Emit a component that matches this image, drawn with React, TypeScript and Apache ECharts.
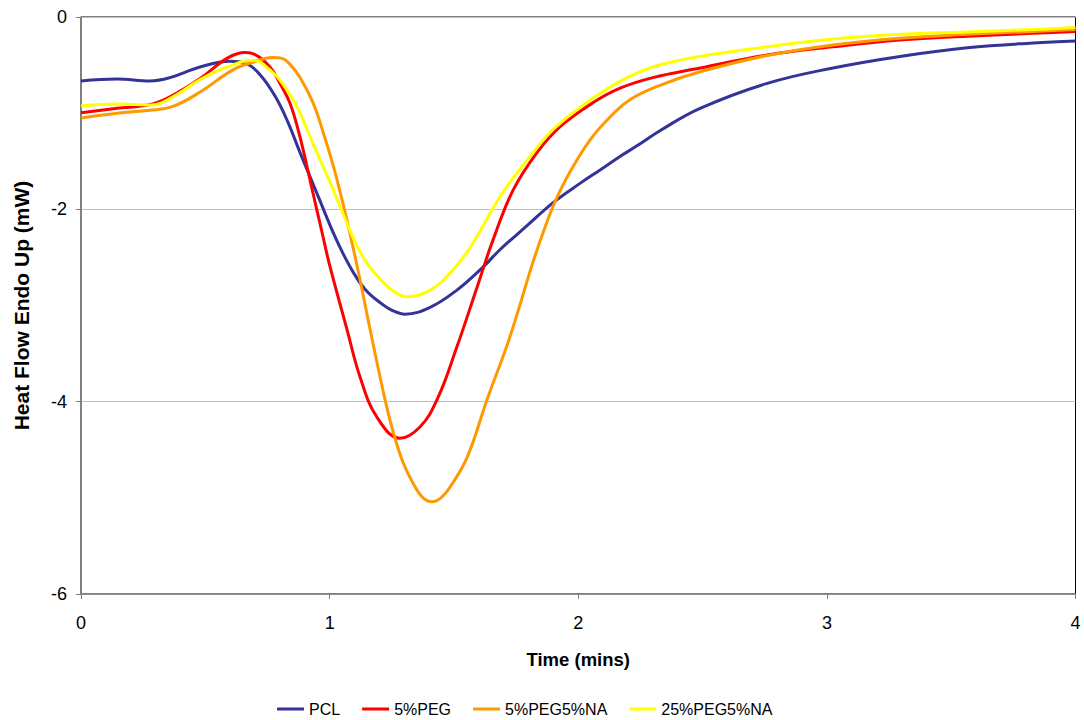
import React, { useEffect, useRef } from "react";
import * as echarts from "echarts";

const seriesNames = ["PCL", "5%PEG", "5%PEG5%NA", "25%PEG5%NA"];
const seriesColors = ["#333399", "#FF0000", "#FF9900", "#FFFF00"];

const pclTime = [0, 0.145, 0.278, 0.358, 0.479, 0.599, 0.66, 0.72, 0.78, 0.83, 0.881, 0.921, 0.961, 1.014, 1.054, 1.094, 1.142, 1.203, 1.251, 1.303, 1.404, 1.512, 1.617, 1.685, 1.794, 1.899, 2.007, 2.088, 2.168, 2.236, 2.33, 2.49, 2.76, 3.025, 3.294, 3.564, 3.83, 4.0];
const pclValue = [-0.665, -0.645, -0.665, -0.63, -0.52, -0.46, -0.48, -0.6, -0.82, -1.08, -1.41, -1.66, -1.91, -2.24, -2.46, -2.65, -2.83, -2.97, -3.05, -3.09, -3.02, -2.84, -2.6, -2.42, -2.17, -1.93, -1.73, -1.59, -1.45, -1.34, -1.18, -0.95, -0.69, -0.53, -0.41, -0.32, -0.27, -0.25];

const pegTime = [0, 0.145, 0.278, 0.358, 0.479, 0.587, 0.66, 0.69, 0.76, 0.8, 0.841, 0.881, 0.933, 0.973, 1.0, 1.07, 1.122, 1.19, 1.283, 1.364, 1.432, 1.512, 1.593, 1.657, 1.738, 1.834, 1.927, 2.06, 2.168, 2.3, 2.49, 2.76, 3.025, 3.294, 3.564, 3.83, 4.0];
const pegValue = [-0.995, -0.95, -0.91, -0.83, -0.64, -0.43, -0.37, -0.38, -0.52, -0.69, -0.9, -1.25, -1.83, -2.28, -2.58, -3.25, -3.74, -4.16, -4.38, -4.26, -3.98, -3.43, -2.81, -2.32, -1.8, -1.41, -1.14, -0.89, -0.74, -0.63, -0.53, -0.395, -0.31, -0.24, -0.2, -0.17, -0.15];

const pegNaTime = [0, 0.145, 0.278, 0.37, 0.479, 0.611, 0.692, 0.77, 0.81, 0.84, 0.881, 0.933, 0.973, 1.014, 1.05, 1.086, 1.122, 1.155, 1.191, 1.223, 1.255, 1.295, 1.336, 1.376, 1.412, 1.448, 1.484, 1.553, 1.633, 1.714, 1.766, 1.814, 1.866, 1.907, 1.967, 2.047, 2.128, 2.208, 2.329, 2.49, 2.76, 3.025, 3.294, 3.564, 3.83, 4.0];
const pegNaValue = [-1.05, -1.0, -0.97, -0.93, -0.78, -0.55, -0.47, -0.42, -0.43, -0.49, -0.63, -0.89, -1.19, -1.54, -1.9, -2.3, -2.73, -3.15, -3.6, -3.98, -4.31, -4.63, -4.85, -5.0, -5.04, -5.0, -4.89, -4.58, -3.98, -3.41, -2.99, -2.58, -2.19, -1.92, -1.61, -1.28, -1.04, -0.86, -0.71, -0.57, -0.4, -0.29, -0.22, -0.18, -0.15, -0.13];

const peg25Time = [0, 0.145, 0.278, 0.37, 0.479, 0.587, 0.692, 0.72, 0.788, 0.853, 0.881, 0.921, 0.961, 1.002, 1.042, 1.074, 1.11, 1.15, 1.191, 1.251, 1.311, 1.404, 1.496, 1.577, 1.685, 1.794, 1.899, 2.035, 2.168, 2.3, 2.49, 2.76, 3.025, 3.294, 3.564, 3.83, 4.0];
const peg25Value = [-0.925, -0.905, -0.915, -0.83, -0.65, -0.52, -0.45, -0.47, -0.62, -0.86, -1.0, -1.24, -1.48, -1.72, -1.97, -2.17, -2.38, -2.56, -2.69, -2.84, -2.91, -2.84, -2.63, -2.35, -1.87, -1.49, -1.17, -0.89, -0.67, -0.52, -0.41, -0.31, -0.23, -0.18, -0.155, -0.13, -0.11];

const times = [pclTime, pegTime, pegNaTime, peg25Time];
const values = [pclValue, pegValue, pegNaValue, peg25Value];

const xTicks = [0, 1, 2, 3, 4];
const yTicks = [-6, -4, -2, 0];

export default function App() {
  const ref = useRef<HTMLDivElement>(null);
  useEffect(() => {
    if (!ref.current) return;
    const chart = echarts.init(ref.current, undefined, { renderer: "svg" });
    const font = "Liberation Sans, Arial, sans-serif";
    chart.setOption({
      animation: false,
      backgroundColor: "#ffffff",
      textStyle: { fontFamily: font },
      grid: {
        left: 81,
        top: 17,
        right: 8.5,
        bottom: 126,
        show: true,
        borderColor: "#000000",
        borderWidth: 1,
        backgroundColor: "transparent",
      },
      legend: {
        left: 272,
        top: 696,
        itemWidth: 27,
        itemHeight: 3,
        itemGap: 22,
        icon: "rect",
        textStyle: { fontSize: 16, color: "#000", fontFamily: font },
        data: seriesNames,
      },
      xAxis: {
        type: "value",
        min: xTicks[0],
        max: xTicks[xTicks.length - 1],
        interval: 1,
        name: "Time (mins)",
        nameLocation: "middle",
        nameGap: 56,
        nameTextStyle: { fontSize: 18.5, fontWeight: "bold", color: "#000", fontFamily: font },
        axisLine: { show: true, onZero: false, lineStyle: { color: "#808080", width: 1.5 } },
        axisTick: { show: true, length: 5, lineStyle: { color: "#808080" } },
        axisLabel: { fontSize: 18, color: "#000", margin: 20, fontFamily: font },
        splitLine: { show: false },
      },
      yAxis: {
        type: "value",
        min: yTicks[0],
        max: yTicks[yTicks.length - 1],
        interval: 2,
        name: "Heat Flow Endo Up (mW)",
        nameLocation: "middle",
        nameGap: 49,
        nameRotate: 90,
        nameTextStyle: { fontSize: 21, fontWeight: "bold", color: "#000", fontFamily: font },
        axisLine: { show: true, lineStyle: { color: "#808080", width: 1.5 } },
        axisTick: { show: true, length: 5, lineStyle: { color: "#808080" } },
        axisLabel: { fontSize: 18, color: "#000", margin: 14, fontFamily: font },
        splitLine: { show: true, lineStyle: { color: "#c0c0c0", width: 1 } },
      },
      series: seriesNames.map((name, i) => ({
        name,
        type: "line",
        data: times[i].map((t, j) => [t, values[i][j]]),
        smooth: 0.4,
        showSymbol: false,
        symbol: "none",
        lineStyle: { color: seriesColors[i], width: 3 },
        itemStyle: { color: seriesColors[i] },
        z: 2 + i,
      })),
    });
    return () => chart.dispose();
  }, []);
  return (
    <div
      ref={ref}
      style={{ position: "fixed", left: 0, top: 0, width: 1084, height: 720 }}
    />
  );
}
